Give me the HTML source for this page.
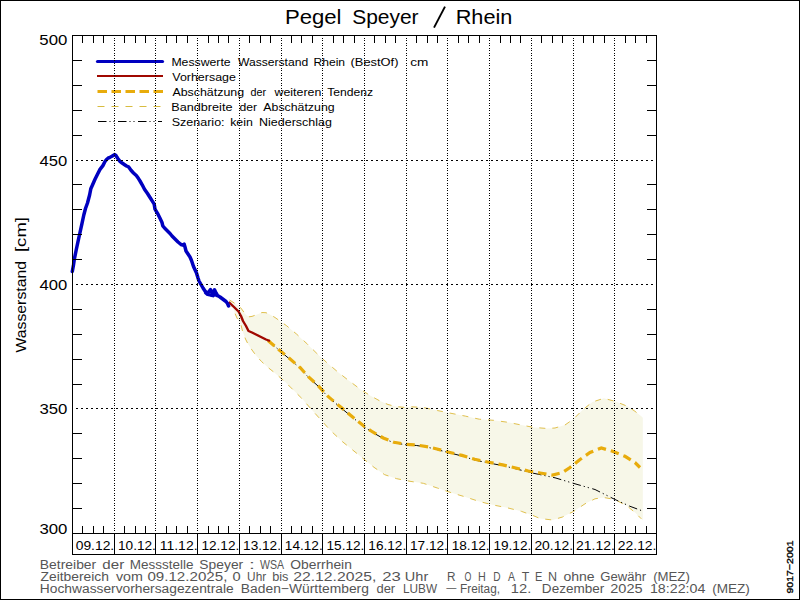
<!DOCTYPE html>
<html><head><meta charset="utf-8"><title>Pegel Speyer / Rhein</title>
<style>html,body{margin:0;padding:0;background:#fff;}svg{display:block;font-family:"Liberation Sans",sans-serif;}</style>
</head><body>
<svg width="800" height="600" viewBox="0 0 800 600">
<rect x="0.5" y="0.5" width="799" height="599" fill="#fff" stroke="#000" stroke-width="1"/>
<polygon points="229.5,300.0 235.0,303.5 240.5,307.5 246.0,315.0 249.0,316.8 252.0,316.4 257.0,314.5 262.0,312.5 266.0,312.7 270.0,314.5 275.0,317.5 286.7,325.8 296.7,334.2 307.5,344.2 316.7,353.3 326.7,362.5 337.5,371.7 348.0,380.0 360.0,389.0 370.0,395.5 380.0,401.0 388.0,404.5 396.0,406.6 404.0,407.3 411.7,406.8 423.3,407.5 437.3,410.5 449.0,412.9 465.3,416.1 479.3,419.2 493.3,420.3 507.3,422.2 521.3,425.0 533.0,427.3 547.0,428.5 555.0,428.0 565.0,425.0 573.8,418.8 582.5,410.0 592.5,402.0 603.8,398.3 615.0,401.3 627.5,406.3 635.0,411.3 641.3,416.3 642.8,417.8 642.8,520.5 641.3,518.8 635.0,512.5 627.5,506.3 615.0,499.5 603.8,497.5 595.0,498.8 585.0,503.8 573.8,511.3 562.5,517.0 552.5,520.0 540.0,518.5 533.0,515.5 521.3,511.3 507.3,507.8 493.3,505.0 479.3,501.5 465.3,496.9 451.3,492.7 437.3,488.0 423.3,483.3 410.0,481.3 396.7,478.7 384.7,474.7 374.0,467.3 363.3,458.7 352.7,450.0 342.0,441.3 330.0,430.0 321.0,420.0 312.0,410.0 301.7,398.3 295.0,391.7 285.0,381.7 273.3,371.7 268.0,367.5 261.7,361.7 256.0,355.5 252.0,350.0 248.0,344.0 245.5,339.0 242.5,331.0 241.0,325.0 237.0,318.0 235.0,313.5 233.0,308.0 229.5,302.0" fill="#f7f7e8" stroke="none"/>
<polyline points="229.5,300.0 235.0,303.5 240.5,307.5 246.0,315.0 249.0,316.8 252.0,316.4 257.0,314.5 262.0,312.5 266.0,312.7 270.0,314.5 275.0,317.5 286.7,325.8 296.7,334.2 307.5,344.2 316.7,353.3 326.7,362.5 337.5,371.7 348.0,380.0 360.0,389.0 370.0,395.5 380.0,401.0 388.0,404.5 396.0,406.6 404.0,407.3 411.7,406.8 423.3,407.5 437.3,410.5 449.0,412.9 465.3,416.1 479.3,419.2 493.3,420.3 507.3,422.2 521.3,425.0 533.0,427.3 547.0,428.5 555.0,428.0 565.0,425.0 573.8,418.8 582.5,410.0 592.5,402.0 603.8,398.3 615.0,401.3 627.5,406.3 635.0,411.3 641.3,416.3" fill="none" stroke="#e0c04e" stroke-width="1" stroke-dasharray="6 7"/>
<polyline points="229.5,302.0 233.0,308.0 235.0,313.5 237.0,318.0 241.0,325.0 242.5,331.0 245.5,339.0 248.0,344.0 252.0,350.0 256.0,355.5 261.7,361.7 268.0,367.5 273.3,371.7 285.0,381.7 295.0,391.7 301.7,398.3 312.0,410.0 321.0,420.0 330.0,430.0 342.0,441.3 352.7,450.0 363.3,458.7 374.0,467.3 384.7,474.7 396.7,478.7 410.0,481.3 423.3,483.3 437.3,488.0 451.3,492.7 465.3,496.9 479.3,501.5 493.3,505.0 507.3,507.8 521.3,511.3 533.0,515.5 540.0,518.5 552.5,520.0 562.5,517.0 573.8,511.3 585.0,503.8 595.0,498.8 603.8,497.5 615.0,499.5 627.5,506.3 635.0,512.5 641.3,518.8" fill="none" stroke="#e0c04e" stroke-width="1" stroke-dasharray="6 7"/>
<polyline points="268.0,340.5 278.3,349.5 288.3,358.0 300.0,368.0 308.3,377.2 318.3,386.3 328.3,397.2 340.0,407.0 352.0,417.0 364.7,427.2 372.7,432.5 383.3,438.5 394.0,442.8 406.0,444.8 416.7,445.5 428.7,447.5 436.0,449.3 449.0,452.7 462.0,456.0 474.7,460.0 488.7,463.0 502.7,465.6 516.7,469.0 530.0,472.5 555.0,477.8 575.0,483.8 595.0,489.5 615.0,499.5 630.0,506.3 641.3,510.5" fill="none" stroke="#000" stroke-width="1" stroke-dasharray="8.5 3 1.2 3 1.2 3.5"/>
<polyline points="268.0,340.5 278.3,349.2 288.3,357.5 300.0,367.5 308.3,376.7 318.3,385.8 328.3,396.7 340.0,406.5 352.0,416.5 364.7,426.7 372.7,432.0 383.3,438.0 394.0,442.3 406.0,444.3 416.7,445.0 428.7,447.0 436.0,448.8 449.0,452.2 462.0,455.4 474.7,459.3 488.7,462.2 502.7,464.9 516.7,468.2 528.3,471.0 540.0,473.0 552.5,475.0 562.5,472.5 570.0,467.5 580.0,459.5 590.0,452.5 601.3,448.0 612.5,451.3 625.0,456.3 635.0,462.5 640.0,467.5" fill="none" stroke="#e8ac0c" stroke-width="3.2" stroke-dasharray="8.5 5"/>
<polyline points="228.7,302.0 234.0,307.0 238.5,311.5 241.0,316.0 243.0,321.0 246.0,326.0 248.5,331.0 252.0,332.5 257.0,335.0 262.0,337.5 266.0,339.5 270.0,341.0" fill="none" stroke="#a00800" stroke-width="2.4" stroke-linejoin="round"/>
<polyline points="72.3,271.5 73.5,265.0 74.4,258.8 76.2,250.0 78.1,241.2 80.0,232.5 81.9,223.8 83.8,215.0 85.5,208.5 87.5,203.0 89.6,195.0 90.8,188.8 92.5,185.0 95.0,179.2 97.5,174.2 100.0,169.4 102.9,165.6 105.0,161.5 106.5,159.5 108.0,158.2 110.0,157.3 112.0,156.3 113.5,155.3 114.5,154.6 116.0,155.5 117.0,157.3 118.0,158.8 120.0,161.3 122.5,163.3 125.0,165.0 126.5,166.0 128.5,166.8 131.0,170.3 133.5,173.0 136.3,175.5 138.5,178.6 140.0,181.0 142.2,184.8 144.5,189.2 147.5,193.5 150.5,198.2 152.0,200.6 154.2,204.2 155.0,209.2 156.3,211.3 157.5,213.3 160.0,218.3 162.0,222.5 162.8,225.8 165.0,228.5 167.5,231.0 170.0,233.5 172.0,236.0 174.0,238.0 175.5,239.5 178.0,242.0 181.0,244.5 183.0,245.2 184.2,244.2 185.0,247.0 186.0,251.0 188.0,254.0 190.0,257.0 191.5,260.5 193.5,266.5 196.5,273.0 198.0,278.0 199.0,281.0 201.0,284.5 203.0,288.0 205.0,291.0 207.0,293.0 208.5,292.3 210.5,289.6 212.5,294.3 214.5,289.8 216.0,293.0 217.5,295.5 220.0,297.0 222.0,298.5 224.0,300.0 226.0,301.5 227.5,303.5 228.6,306.0" fill="none" stroke="#0000c0" stroke-width="3.5" stroke-linejoin="round" stroke-linecap="round"/>
<polyline points="205.5,292.8 207.5,294.5 209.5,294.8 211.5,295.5 213.0,295.8 215.0,294.5 216.5,295.5" fill="none" stroke="#0000c0" stroke-width="3.2" stroke-linejoin="round" stroke-linecap="round"/>
<line x1="97.5" y1="61.5" x2="162.5" y2="61.5" stroke="#0000c0" stroke-width="3.2" stroke-linecap="round"/><line x1="97" y1="76" x2="163" y2="76" stroke="#a00800" stroke-width="2"/><line x1="97.5" y1="91.5" x2="163" y2="91.5" stroke="#e8ac0c" stroke-width="3.2" stroke-dasharray="9.5 4.5" stroke-linecap="butt"/><line x1="97.5" y1="106.5" x2="162" y2="106.5" stroke="#d8bc40" stroke-width="1" stroke-dasharray="7 7"/><line x1="98" y1="121.5" x2="162" y2="121.5" stroke="#000" stroke-width="1" stroke-dasharray="8.5 3 1 3 1 3.5"/>
<g shape-rendering="crispEdges"><line x1="76" y1="160.5" x2="656" y2="160.5" stroke="#000" stroke-width="1" stroke-dasharray="2 3"/><line x1="76" y1="284.5" x2="656" y2="284.5" stroke="#000" stroke-width="1" stroke-dasharray="2 3"/><line x1="76" y1="408.5" x2="656" y2="408.5" stroke="#000" stroke-width="1" stroke-dasharray="2 3"/><line x1="114.5" y1="38" x2="114.5" y2="533" stroke="#000" stroke-width="1" stroke-dasharray="1 1 1 2"/><line x1="155.5" y1="38" x2="155.5" y2="533" stroke="#000" stroke-width="1" stroke-dasharray="1 1 1 2"/><line x1="197.5" y1="38" x2="197.5" y2="533" stroke="#000" stroke-width="1" stroke-dasharray="1 1 1 2"/><line x1="239.5" y1="38" x2="239.5" y2="533" stroke="#000" stroke-width="1" stroke-dasharray="1 1 1 2"/><line x1="281.5" y1="38" x2="281.5" y2="533" stroke="#000" stroke-width="1" stroke-dasharray="1 1 1 2"/><line x1="322.5" y1="38" x2="322.5" y2="533" stroke="#000" stroke-width="1" stroke-dasharray="1 1 1 2"/><line x1="364.5" y1="38" x2="364.5" y2="533" stroke="#000" stroke-width="1" stroke-dasharray="1 1 1 2"/><line x1="406.5" y1="38" x2="406.5" y2="533" stroke="#000" stroke-width="1" stroke-dasharray="1 1 1 2"/><line x1="447.5" y1="38" x2="447.5" y2="533" stroke="#000" stroke-width="1" stroke-dasharray="1 1 1 2"/><line x1="489.5" y1="38" x2="489.5" y2="533" stroke="#000" stroke-width="1" stroke-dasharray="1 1 1 2"/><line x1="531.5" y1="38" x2="531.5" y2="533" stroke="#000" stroke-width="1" stroke-dasharray="1 1 1 2"/><line x1="573.5" y1="38" x2="573.5" y2="533" stroke="#000" stroke-width="1" stroke-dasharray="1 1 1 2"/><line x1="614.5" y1="38" x2="614.5" y2="533" stroke="#000" stroke-width="1" stroke-dasharray="1 1 1 2"/></g>
<g shape-rendering="crispEdges"><rect x="72.5" y="35.5" width="584" height="498" fill="none" stroke="#000"/><rect x="72.5" y="533.5" width="584" height="21" fill="none" stroke="#000"/><line x1="114.5" y1="533" x2="114.5" y2="554" stroke="#000"/><line x1="155.5" y1="533" x2="155.5" y2="554" stroke="#000"/><line x1="197.5" y1="533" x2="197.5" y2="554" stroke="#000"/><line x1="239.5" y1="533" x2="239.5" y2="554" stroke="#000"/><line x1="281.5" y1="533" x2="281.5" y2="554" stroke="#000"/><line x1="322.5" y1="533" x2="322.5" y2="554" stroke="#000"/><line x1="364.5" y1="533" x2="364.5" y2="554" stroke="#000"/><line x1="406.5" y1="533" x2="406.5" y2="554" stroke="#000"/><line x1="447.5" y1="533" x2="447.5" y2="554" stroke="#000"/><line x1="489.5" y1="533" x2="489.5" y2="554" stroke="#000"/><line x1="531.5" y1="533" x2="531.5" y2="554" stroke="#000"/><line x1="573.5" y1="533" x2="573.5" y2="554" stroke="#000"/><line x1="614.5" y1="533" x2="614.5" y2="554" stroke="#000"/><line x1="82.5" y1="36" x2="82.5" y2="43" stroke="#000"/><line x1="82.5" y1="526" x2="82.5" y2="533" stroke="#000"/><line x1="93.5" y1="36" x2="93.5" y2="43" stroke="#000"/><line x1="93.5" y1="526" x2="93.5" y2="533" stroke="#000"/><line x1="103.5" y1="36" x2="103.5" y2="43" stroke="#000"/><line x1="103.5" y1="526" x2="103.5" y2="533" stroke="#000"/><line x1="124.5" y1="36" x2="124.5" y2="43" stroke="#000"/><line x1="124.5" y1="526" x2="124.5" y2="533" stroke="#000"/><line x1="135.5" y1="36" x2="135.5" y2="43" stroke="#000"/><line x1="135.5" y1="526" x2="135.5" y2="533" stroke="#000"/><line x1="145.5" y1="36" x2="145.5" y2="43" stroke="#000"/><line x1="145.5" y1="526" x2="145.5" y2="533" stroke="#000"/><line x1="166.5" y1="36" x2="166.5" y2="43" stroke="#000"/><line x1="166.5" y1="526" x2="166.5" y2="533" stroke="#000"/><line x1="176.5" y1="36" x2="176.5" y2="43" stroke="#000"/><line x1="176.5" y1="526" x2="176.5" y2="533" stroke="#000"/><line x1="187.5" y1="36" x2="187.5" y2="43" stroke="#000"/><line x1="187.5" y1="526" x2="187.5" y2="533" stroke="#000"/><line x1="208.5" y1="36" x2="208.5" y2="43" stroke="#000"/><line x1="208.5" y1="526" x2="208.5" y2="533" stroke="#000"/><line x1="218.5" y1="36" x2="218.5" y2="43" stroke="#000"/><line x1="218.5" y1="526" x2="218.5" y2="533" stroke="#000"/><line x1="228.5" y1="36" x2="228.5" y2="43" stroke="#000"/><line x1="228.5" y1="526" x2="228.5" y2="533" stroke="#000"/><line x1="249.5" y1="36" x2="249.5" y2="43" stroke="#000"/><line x1="249.5" y1="526" x2="249.5" y2="533" stroke="#000"/><line x1="260.5" y1="36" x2="260.5" y2="43" stroke="#000"/><line x1="260.5" y1="526" x2="260.5" y2="533" stroke="#000"/><line x1="270.5" y1="36" x2="270.5" y2="43" stroke="#000"/><line x1="270.5" y1="526" x2="270.5" y2="533" stroke="#000"/><line x1="291.5" y1="36" x2="291.5" y2="43" stroke="#000"/><line x1="291.5" y1="526" x2="291.5" y2="533" stroke="#000"/><line x1="301.5" y1="36" x2="301.5" y2="43" stroke="#000"/><line x1="301.5" y1="526" x2="301.5" y2="533" stroke="#000"/><line x1="312.5" y1="36" x2="312.5" y2="43" stroke="#000"/><line x1="312.5" y1="526" x2="312.5" y2="533" stroke="#000"/><line x1="333.5" y1="36" x2="333.5" y2="43" stroke="#000"/><line x1="333.5" y1="526" x2="333.5" y2="533" stroke="#000"/><line x1="343.5" y1="36" x2="343.5" y2="43" stroke="#000"/><line x1="343.5" y1="526" x2="343.5" y2="533" stroke="#000"/><line x1="354.5" y1="36" x2="354.5" y2="43" stroke="#000"/><line x1="354.5" y1="526" x2="354.5" y2="533" stroke="#000"/><line x1="374.5" y1="36" x2="374.5" y2="43" stroke="#000"/><line x1="374.5" y1="526" x2="374.5" y2="533" stroke="#000"/><line x1="385.5" y1="36" x2="385.5" y2="43" stroke="#000"/><line x1="385.5" y1="526" x2="385.5" y2="533" stroke="#000"/><line x1="395.5" y1="36" x2="395.5" y2="43" stroke="#000"/><line x1="395.5" y1="526" x2="395.5" y2="533" stroke="#000"/><line x1="416.5" y1="36" x2="416.5" y2="43" stroke="#000"/><line x1="416.5" y1="526" x2="416.5" y2="533" stroke="#000"/><line x1="427.5" y1="36" x2="427.5" y2="43" stroke="#000"/><line x1="427.5" y1="526" x2="427.5" y2="533" stroke="#000"/><line x1="437.5" y1="36" x2="437.5" y2="43" stroke="#000"/><line x1="437.5" y1="526" x2="437.5" y2="533" stroke="#000"/><line x1="458.5" y1="36" x2="458.5" y2="43" stroke="#000"/><line x1="458.5" y1="526" x2="458.5" y2="533" stroke="#000"/><line x1="468.5" y1="36" x2="468.5" y2="43" stroke="#000"/><line x1="468.5" y1="526" x2="468.5" y2="533" stroke="#000"/><line x1="479.5" y1="36" x2="479.5" y2="43" stroke="#000"/><line x1="479.5" y1="526" x2="479.5" y2="533" stroke="#000"/><line x1="500.5" y1="36" x2="500.5" y2="43" stroke="#000"/><line x1="500.5" y1="526" x2="500.5" y2="533" stroke="#000"/><line x1="510.5" y1="36" x2="510.5" y2="43" stroke="#000"/><line x1="510.5" y1="526" x2="510.5" y2="533" stroke="#000"/><line x1="520.5" y1="36" x2="520.5" y2="43" stroke="#000"/><line x1="520.5" y1="526" x2="520.5" y2="533" stroke="#000"/><line x1="541.5" y1="36" x2="541.5" y2="43" stroke="#000"/><line x1="541.5" y1="526" x2="541.5" y2="533" stroke="#000"/><line x1="552.5" y1="36" x2="552.5" y2="43" stroke="#000"/><line x1="552.5" y1="526" x2="552.5" y2="533" stroke="#000"/><line x1="562.5" y1="36" x2="562.5" y2="43" stroke="#000"/><line x1="562.5" y1="526" x2="562.5" y2="533" stroke="#000"/><line x1="583.5" y1="36" x2="583.5" y2="43" stroke="#000"/><line x1="583.5" y1="526" x2="583.5" y2="533" stroke="#000"/><line x1="593.5" y1="36" x2="593.5" y2="43" stroke="#000"/><line x1="593.5" y1="526" x2="593.5" y2="533" stroke="#000"/><line x1="604.5" y1="36" x2="604.5" y2="43" stroke="#000"/><line x1="604.5" y1="526" x2="604.5" y2="533" stroke="#000"/><line x1="625.5" y1="36" x2="625.5" y2="43" stroke="#000"/><line x1="625.5" y1="526" x2="625.5" y2="533" stroke="#000"/><line x1="635.5" y1="36" x2="635.5" y2="43" stroke="#000"/><line x1="635.5" y1="526" x2="635.5" y2="533" stroke="#000"/><line x1="646.5" y1="36" x2="646.5" y2="43" stroke="#000"/><line x1="646.5" y1="526" x2="646.5" y2="533" stroke="#000"/><line x1="72" y1="508.5" x2="82" y2="508.5" stroke="#000"/><line x1="647" y1="508.5" x2="657" y2="508.5" stroke="#000"/><line x1="72" y1="483.5" x2="82" y2="483.5" stroke="#000"/><line x1="647" y1="483.5" x2="657" y2="483.5" stroke="#000"/><line x1="72" y1="458.5" x2="82" y2="458.5" stroke="#000"/><line x1="647" y1="458.5" x2="657" y2="458.5" stroke="#000"/><line x1="72" y1="433.5" x2="82" y2="433.5" stroke="#000"/><line x1="647" y1="433.5" x2="657" y2="433.5" stroke="#000"/><line x1="72" y1="384.5" x2="82" y2="384.5" stroke="#000"/><line x1="647" y1="384.5" x2="657" y2="384.5" stroke="#000"/><line x1="72" y1="359.5" x2="82" y2="359.5" stroke="#000"/><line x1="647" y1="359.5" x2="657" y2="359.5" stroke="#000"/><line x1="72" y1="334.5" x2="82" y2="334.5" stroke="#000"/><line x1="647" y1="334.5" x2="657" y2="334.5" stroke="#000"/><line x1="72" y1="309.5" x2="82" y2="309.5" stroke="#000"/><line x1="647" y1="309.5" x2="657" y2="309.5" stroke="#000"/><line x1="72" y1="259.5" x2="82" y2="259.5" stroke="#000"/><line x1="647" y1="259.5" x2="657" y2="259.5" stroke="#000"/><line x1="72" y1="234.5" x2="82" y2="234.5" stroke="#000"/><line x1="647" y1="234.5" x2="657" y2="234.5" stroke="#000"/><line x1="72" y1="209.5" x2="82" y2="209.5" stroke="#000"/><line x1="647" y1="209.5" x2="657" y2="209.5" stroke="#000"/><line x1="72" y1="184.5" x2="82" y2="184.5" stroke="#000"/><line x1="647" y1="184.5" x2="657" y2="184.5" stroke="#000"/><line x1="72" y1="135.5" x2="82" y2="135.5" stroke="#000"/><line x1="647" y1="135.5" x2="657" y2="135.5" stroke="#000"/><line x1="72" y1="110.5" x2="82" y2="110.5" stroke="#000"/><line x1="647" y1="110.5" x2="657" y2="110.5" stroke="#000"/><line x1="72" y1="85.5" x2="82" y2="85.5" stroke="#000"/><line x1="647" y1="85.5" x2="657" y2="85.5" stroke="#000"/><line x1="72" y1="60.5" x2="82" y2="60.5" stroke="#000"/><line x1="647" y1="60.5" x2="657" y2="60.5" stroke="#000"/></g>
<g font-family="Liberation Sans, sans-serif" fill="#000"><text x="171.4" y="65.5" font-size="11.2" textLength="59.25" lengthAdjust="spacingAndGlyphs">Messwerte</text><text x="237.9" y="65.5" font-size="11.2" textLength="70.33" lengthAdjust="spacingAndGlyphs">Wasserstand</text><text x="313.5" y="65.5" font-size="11.2" textLength="31.52" lengthAdjust="spacingAndGlyphs">Rhein</text><text x="350.5" y="65.5" font-size="11.2" textLength="47.95" lengthAdjust="spacingAndGlyphs">(BestOf)</text><text x="410.2" y="65.5" font-size="11.2" textLength="18.12" lengthAdjust="spacingAndGlyphs">cm</text><text x="172.3" y="80.5" font-size="11.2" textLength="63.60" lengthAdjust="spacingAndGlyphs">Vorhersage</text><text x="172.4" y="95.5" font-size="11.2" textLength="71.72" lengthAdjust="spacingAndGlyphs">Absch&#228;tzung</text><text x="250.6" y="95.5" font-size="11.2" textLength="15.53" lengthAdjust="spacingAndGlyphs">der</text><text x="274.5" y="95.5" font-size="11.2" textLength="46.79" lengthAdjust="spacingAndGlyphs">weiteren</text><text x="327.2" y="95.5" font-size="11.2" textLength="45.95" lengthAdjust="spacingAndGlyphs">Tendenz</text><text x="171.3" y="110.5" font-size="11.2" textLength="61.20" lengthAdjust="spacingAndGlyphs">Bandbreite</text><text x="239.5" y="110.5" font-size="11.2" textLength="17.61" lengthAdjust="spacingAndGlyphs">der</text><text x="263.3" y="110.5" font-size="11.2" textLength="71.32" lengthAdjust="spacingAndGlyphs">Absch&#228;tzung</text><text x="171.7" y="125.5" font-size="11.2" textLength="52.91" lengthAdjust="spacingAndGlyphs">Szenario:</text><text x="230.2" y="125.5" font-size="11.2" textLength="22.63" lengthAdjust="spacingAndGlyphs">kein</text><text x="259.1" y="125.5" font-size="11.2" textLength="72.73" lengthAdjust="spacingAndGlyphs">Niederschlag</text><text x="284.9" y="23.6" font-size="21" textLength="56.60" lengthAdjust="spacingAndGlyphs">Pegel</text><text x="352.2" y="23.6" font-size="21" textLength="66.40" lengthAdjust="spacingAndGlyphs">Speyer</text><text x="455.7" y="23.6" font-size="21" textLength="56.69" lengthAdjust="spacingAndGlyphs">Rhein</text><line x1="434" y1="27.6" x2="445" y2="6.6" stroke="#000" stroke-width="1.9"/><text x="39.3" y="44.6" font-size="15.3" textLength="28.03" lengthAdjust="spacingAndGlyphs">500</text><text x="39.6" y="165.7" font-size="15.3" textLength="27.73" lengthAdjust="spacingAndGlyphs">450</text><text x="39.6" y="289.6" font-size="15.3" textLength="27.73" lengthAdjust="spacingAndGlyphs">400</text><text x="39.4" y="414.4" font-size="15.3" textLength="27.99" lengthAdjust="spacingAndGlyphs">350</text><text x="39.4" y="533.6" font-size="15.3" textLength="27.99" lengthAdjust="spacingAndGlyphs">300</text><text transform="translate(25.8,352.5) rotate(-90)" x="-0.07" y="0" font-size="15" textLength="91.58" lengthAdjust="spacingAndGlyphs">Wasserstand</text><text transform="translate(25.8,352.5) rotate(-90)" x="100.48" y="0" font-size="15" textLength="35.05" lengthAdjust="spacingAndGlyphs">[cm]</text><text x="75.7" y="549.8" font-size="12.5" textLength="38.52" lengthAdjust="spacingAndGlyphs">09.12.</text><text x="118.0" y="549.8" font-size="12.5" textLength="37.90" lengthAdjust="spacingAndGlyphs">10.12.</text><text x="159.7" y="549.8" font-size="12.5" textLength="37.90" lengthAdjust="spacingAndGlyphs">11.12.</text><text x="201.4" y="549.8" font-size="12.5" textLength="37.90" lengthAdjust="spacingAndGlyphs">12.12.</text><text x="243.1" y="549.8" font-size="12.5" textLength="37.90" lengthAdjust="spacingAndGlyphs">13.12.</text><text x="284.8" y="549.8" font-size="12.5" textLength="37.90" lengthAdjust="spacingAndGlyphs">14.12.</text><text x="326.5" y="549.8" font-size="12.5" textLength="37.90" lengthAdjust="spacingAndGlyphs">15.12.</text><text x="368.3" y="549.8" font-size="12.5" textLength="37.90" lengthAdjust="spacingAndGlyphs">16.12.</text><text x="410.0" y="549.8" font-size="12.5" textLength="37.90" lengthAdjust="spacingAndGlyphs">17.12.</text><text x="451.7" y="549.8" font-size="12.5" textLength="37.90" lengthAdjust="spacingAndGlyphs">18.12.</text><text x="493.4" y="549.8" font-size="12.5" textLength="37.90" lengthAdjust="spacingAndGlyphs">19.12.</text><text x="534.4" y="549.8" font-size="12.5" textLength="38.68" lengthAdjust="spacingAndGlyphs">20.12.</text><text x="576.1" y="549.8" font-size="12.5" textLength="38.68" lengthAdjust="spacingAndGlyphs">21.12.</text><text x="617.8" y="549.8" font-size="12.5" textLength="38.68" lengthAdjust="spacingAndGlyphs">22.12.</text><text x="39.86" y="569.4" font-size="12.5" fill="#555" textLength="56.37" lengthAdjust="spacingAndGlyphs">Betreiber</text><text x="102.36" y="569.4" font-size="12.5" fill="#555" textLength="21.89" lengthAdjust="spacingAndGlyphs">der</text><text x="129.89" y="569.4" font-size="12.5" fill="#555" textLength="63.71" lengthAdjust="spacingAndGlyphs">Messstelle</text><text x="199.37" y="569.4" font-size="12.5" fill="#555" textLength="43.86" lengthAdjust="spacingAndGlyphs">Speyer</text><text x="249.08" y="569.4" font-size="12.5" fill="#555" textLength="5.84" lengthAdjust="spacingAndGlyphs">:</text><text x="259.95" y="569.4" font-size="12.5" fill="#555" textLength="24.07" lengthAdjust="spacingAndGlyphs">WSA</text><text x="290.34" y="569.4" font-size="12.5" fill="#555" textLength="61.55" lengthAdjust="spacingAndGlyphs">Oberrhein</text><text x="40.56" y="581.4" font-size="12.5" fill="#555" textLength="68.34" lengthAdjust="spacingAndGlyphs">Zeitbereich</text><text x="115.95" y="581.4" font-size="12.5" fill="#555" textLength="26.99" lengthAdjust="spacingAndGlyphs">vom</text><text x="147.41" y="581.4" font-size="12.5" fill="#555" textLength="79.95" lengthAdjust="spacingAndGlyphs">09.12.2025,</text><text x="232.43" y="581.4" font-size="12.5" fill="#555" textLength="8.14" lengthAdjust="spacingAndGlyphs">0</text><text x="247.08" y="581.4" font-size="12.5" fill="#555" textLength="19.11" lengthAdjust="spacingAndGlyphs">Uhr</text><text x="272.18" y="581.4" font-size="12.5" fill="#555" textLength="16.28" lengthAdjust="spacingAndGlyphs">bis</text><text x="293.21" y="581.4" font-size="12.5" fill="#555" textLength="83.21" lengthAdjust="spacingAndGlyphs">22.12.2025,</text><text x="382.16" y="581.4" font-size="12.5" fill="#555" textLength="18.57" lengthAdjust="spacingAndGlyphs">23</text><text x="404.88" y="581.4" font-size="12.5" fill="#555" textLength="23.36" lengthAdjust="spacingAndGlyphs">Uhr</text><text x="447.03" y="581.4" font-size="12.5" fill="#555" textLength="8.51" lengthAdjust="spacingAndGlyphs">R</text><text x="464.58" y="581.4" font-size="12.5" fill="#555" textLength="6.84" lengthAdjust="spacingAndGlyphs">O</text><text x="478.12" y="581.4" font-size="12.5" fill="#555" textLength="7.76" lengthAdjust="spacingAndGlyphs">H</text><text x="493.17" y="581.4" font-size="12.5" fill="#555" textLength="7.32" lengthAdjust="spacingAndGlyphs">D</text><text x="507.98" y="581.4" font-size="12.5" fill="#555" textLength="7.04" lengthAdjust="spacingAndGlyphs">A</text><text x="521.72" y="581.4" font-size="12.5" fill="#555" textLength="7.56" lengthAdjust="spacingAndGlyphs">T</text><text x="535.09" y="581.4" font-size="12.5" fill="#555" textLength="7.38" lengthAdjust="spacingAndGlyphs">E</text><text x="547.97" y="581.4" font-size="12.5" fill="#555" textLength="9.05" lengthAdjust="spacingAndGlyphs">N</text><text x="563.41" y="581.4" font-size="12.5" fill="#555" textLength="31.21" lengthAdjust="spacingAndGlyphs">ohne</text><text x="600.34" y="581.4" font-size="12.5" fill="#555" textLength="45.88" lengthAdjust="spacingAndGlyphs">Gew&#228;hr</text><text x="653.18" y="581.4" font-size="12.5" fill="#555" textLength="36.64" lengthAdjust="spacingAndGlyphs">(MEZ)</text><text x="39.87" y="593.4" font-size="12.5" fill="#555" textLength="193.74" lengthAdjust="spacingAndGlyphs">Hochwasservorhersagezentrale</text><text x="240.87" y="593.4" font-size="12.5" fill="#555" textLength="128.03" lengthAdjust="spacingAndGlyphs">Baden&#8722;W&#252;rttemberg</text><text x="376.45" y="593.4" font-size="12.5" fill="#555" textLength="18.76" lengthAdjust="spacingAndGlyphs">der</text><text x="403.03" y="593.4" font-size="12.5" fill="#555" textLength="34.01" lengthAdjust="spacingAndGlyphs">LUBW</text><text x="444.98" y="593.4" font-size="12.5" fill="#555" textLength="12.02" lengthAdjust="spacingAndGlyphs">&#8722;</text><text x="460.03" y="593.4" font-size="12.5" fill="#555" textLength="40.03" lengthAdjust="spacingAndGlyphs">Freitag,</text><text x="510.88" y="593.4" font-size="12.5" fill="#555" textLength="20.47" lengthAdjust="spacingAndGlyphs">12.</text><text x="541.89" y="593.4" font-size="12.5" fill="#555" textLength="62.33" lengthAdjust="spacingAndGlyphs">Dezember</text><text x="610.27" y="593.4" font-size="12.5" fill="#555" textLength="32.34" lengthAdjust="spacingAndGlyphs">2025</text><text x="649.91" y="593.4" font-size="12.5" fill="#555" textLength="55.50" lengthAdjust="spacingAndGlyphs">18:22:04</text><text x="712.16" y="593.4" font-size="12.5" fill="#555" textLength="37.68" lengthAdjust="spacingAndGlyphs">(MEZ)</text><text transform="translate(792.9,593.5) rotate(-90)" font-size="9.6" stroke="#000" stroke-width="0.35" textLength="53" lengthAdjust="spacingAndGlyphs">9017&#8722;2001</text></g>
</svg>
</body></html>
